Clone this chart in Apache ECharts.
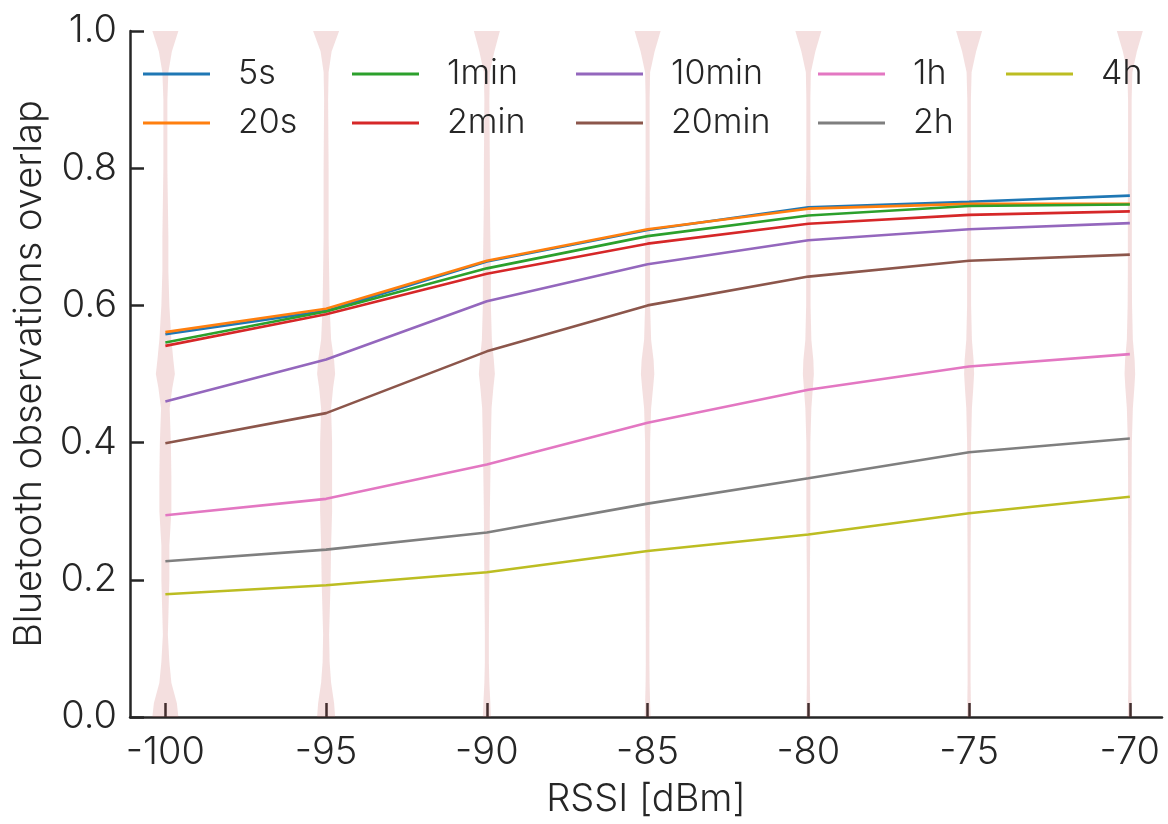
<!DOCTYPE html>
<html>
<head>
<meta charset="utf-8">
<script src="https://cdn.jsdelivr.net/npm/echarts@6/dist/echarts.min.js"></script>
<style>
html,body{margin:0;padding:0;background:#fff;}
#chart{width:1168px;height:824px;}
</style>
</head>
<body>
<div id="chart"></div>
<script>
// ---- data ----
const rssi = [-100, -95, -90, -85, -80, -75, -70];
const seriesNames = ['5s', '20s', '1min', '2min', '10min', '20min', '1h', '2h', '4h'];
const s5s   = [0.558, 0.592, 0.664, 0.710, 0.743, 0.751, 0.760];
const s20s  = [0.561, 0.595, 0.665, 0.711, 0.741, 0.748, 0.748];
const s1min = [0.546, 0.591, 0.654, 0.701, 0.731, 0.745, 0.747];
const s2min = [0.541, 0.587, 0.646, 0.690, 0.719, 0.732, 0.737];
const s10min= [0.460, 0.521, 0.606, 0.660, 0.695, 0.711, 0.720];
const s20min= [0.399, 0.443, 0.533, 0.600, 0.642, 0.665, 0.674];
const s1h   = [0.294, 0.318, 0.368, 0.429, 0.477, 0.511, 0.529];
const s2h   = [0.227, 0.244, 0.269, 0.311, 0.348, 0.386, 0.406];
const s4h   = [0.179, 0.192, 0.211, 0.242, 0.266, 0.297, 0.321];
const yTicks = [0, 0.2, 0.4, 0.6, 0.8, 1.0];
const xTicks = [-100, -95, -90, -85, -80, -75, -70];

// violin density profiles (relative widths) at overlap levels
const violinLevels = [0, 0.02, 0.05, 0.08, 0.12, 0.2, 0.25, 0.3, 0.35, 0.4, 0.45, 0.48, 0.5, 0.52, 0.55, 0.6, 0.65, 0.7, 0.75, 0.8, 0.9, 0.94, 0.97, 1.0];
const violin100 = [13, 11.5, 6, 4, 2.5, 4, 4, 6, 6, 5.5, 4.3, 7, 9.5, 8, 6, 4, 3, 3, 2.5, 2, 2, 3, 6.5, 13];
const violin95  = [9, 8, 5, 3.5, 3, 4.5, 5, 6, 6, 6, 5, 7, 9, 8, 5, 3.5, 3, 2.5, 2.5, 2.5, 2, 2.5, 5.5, 13];
const violin90  = [4, 3.5, 2.5, 2, 2, 2.5, 2.8, 3, 3.5, 4, 4.7, 6.5, 8, 7, 5, 4, 4, 3.5, 3, 3, 2.5, 3, 7.5, 13];
const violin85  = [3, 2.5, 2, 1.8, 1.8, 2, 2.2, 2.5, 2.5, 2.5, 3.5, 5.5, 6.7, 6, 3.5, 2.5, 2.5, 2.5, 2.2, 2, 2, 2.5, 7, 13];
const violin80  = [2, 1.8, 1.5, 1.5, 1.5, 1.5, 1.8, 2, 2, 2, 3, 4.5, 5.5, 5, 3, 2.2, 2.2, 2.2, 2.5, 2, 2, 2.5, 7, 13];
const violin75  = [2, 1.8, 1.5, 1.5, 1.5, 1.5, 1.6, 1.8, 1.8, 2, 2.8, 4.2, 5, 4.5, 2.8, 2, 2, 2, 2, 1.8, 1.8, 2.5, 7, 13];
const violin70  = [2, 1.8, 1.5, 1.5, 1.5, 1.5, 1.6, 1.8, 1.8, 2, 3, 4.5, 5.3, 4.8, 3, 2.2, 2, 2, 2, 1.8, 1.8, 2.5, 7, 13];
const violins = [violin100, violin95, violin90, violin85, violin80, violin75, violin70];

// ---- styling ----
const colors = ['#1f77b4', '#ff7f0e', '#2ca02c', '#d62728', '#9467bd', '#8c564b', '#e377c2', '#7f7f7f', '#bcbd22'];
const seriesData = [s5s, s20s, s1min, s2min, s10min, s20min, s1h, s2h, s4h];
const FONT = 'Inter';
const TXT = '#262626';
const VIOLIN_HALF = 13;

const chart = echarts.init(document.getElementById('chart'), null, {renderer: 'canvas'});

const lineSeries = seriesNames.map((name, k) => ({
  name: name,
  type: 'line',
  data: rssi.map((x, i) => [x, seriesData[k][i]]),
  showSymbol: false,
  symbol: 'none',
  lineStyle: {color: colors[k], width: 2.6},
  itemStyle: {color: colors[k]},
  z: 5 + k,
  animation: false
}));

const violinSeries = {
  type: 'custom',
  name: 'violin',
  data: rssi.map((x, i) => [x, i]),
  z: 3,
  silent: true,
  animation: false,
  clip: false,
  renderItem: function (params, api) {
    const i = params.dataIndex;
    const x = rssi[i];
    const dens = violins[i];
    const mx = Math.max.apply(null, dens);
    const right = [], left = [];
    for (let j = 0; j < violinLevels.length; j++) {
      const p = api.coord([x, violinLevels[j]]);
      const w = dens[j] / mx * VIOLIN_HALF;
      right.push([p[0] + w, p[1]]);
      left.push([p[0] - w, p[1]]);
    }
    const pts = right.concat(left.reverse());
    return {
      type: 'polygon',
      shape: {points: pts, smooth: 0},
      style: {fill: 'rgba(200,95,95,0.2)', stroke: null}
    };
  }
};

const legendCols = [[ '5s', '20s'], ['1min', '2min'], ['10min', '20min'], ['1h', '2h'], ['4h']];
const legendLefts = [138, 347, 571, 813, 1001];
const legends = legendCols.map((names, c) => ({
  data: names,
  orient: 'vertical',
  left: legendLefts[c],
  top: 52,
  icon: 'rect',
  itemWidth: 67,
  itemHeight: 3,
  itemGap: 15,
  selectedMode: false,
  textStyle: {fontFamily: FONT, fontWeight: 300, fontSize: 34, color: TXT, padding: [0, 0, 0, 23], lineHeight: 31}
}));

const option = {
  backgroundColor: '#ffffff',
  animation: false,
  color: colors,
  legend: legends,
  grid: {left: 130, top: 31, right: 6, bottom: 107, containLabel: false},
  xAxis: {
    type: 'value',
    min: -101.1,
    max: -69,
    name: 'RSSI [dBm]',
    nameLocation: 'middle',
    nameGap: 64,
    nameTextStyle: {fontFamily: FONT, fontWeight: 300, fontSize: 38, color: TXT},
    axisLine: {show: true, onZero: false, lineStyle: {color: TXT, width: 2.5}},
    axisTick: {show: true, inside: true, length: 14, customValues: xTicks, lineStyle: {color: '#222', width: 2.5}},
    axisLabel: {customValues: xTicks, margin: 17, fontFamily: FONT, fontWeight: 300, fontSize: 38, color: TXT,
      formatter: v => String(Math.round(v))},
    splitLine: {show: false}
  },
  yAxis: {
    type: 'value',
    min: 0,
    max: 1,
    interval: 0.2,
    name: 'Bluetooth observations overlap',
    nameLocation: 'middle',
    nameGap: 80,
    nameTextStyle: {fontFamily: FONT, fontWeight: 300, fontSize: 38, color: TXT},
    axisLine: {show: true, lineStyle: {color: TXT, width: 2.5}},
    axisTick: {show: true, inside: true, length: 14, lineStyle: {color: TXT, width: 2.5}},
    axisLabel: {margin: 13, fontFamily: FONT, fontWeight: 300, fontSize: 38, color: TXT,
      formatter: v => v.toFixed(1)},
    splitLine: {show: false}
  },
  series: [violinSeries].concat(lineSeries)
};
chart.setOption(option);
</script>
</body>
</html>
